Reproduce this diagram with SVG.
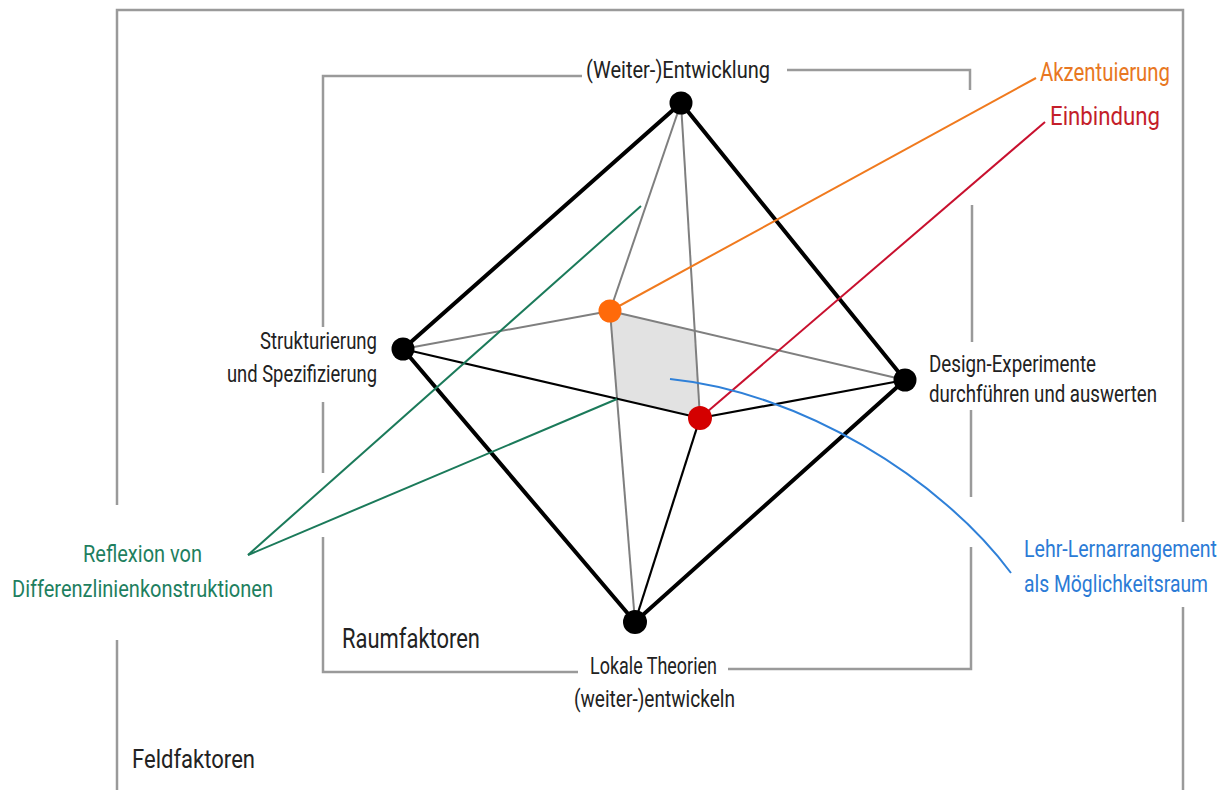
<svg xmlns="http://www.w3.org/2000/svg" width="1227" height="790" viewBox="0 0 1227 790">
<style>
text{font-family:Roboto,"Liberation Sans",sans-serif;fill:#222;font-size:23px}
.frame{fill:none;stroke:#9a9a9a;stroke-width:2.5}
.thick{stroke:#000;stroke-width:4;fill:none;stroke-linecap:round}
.thin{stroke:#000;stroke-width:2.2;fill:none}
.gray{stroke:#7f7f7f;stroke-width:2;fill:none}
.or{fill:#e87722}.rd{fill:#c41e2a}.gr{fill:#1e7f5f}.bl{fill:#2b7bd6}
</style>
<rect width="1227" height="790" fill="#fff"/>
<g id="frames">
<polyline class="frame" points="117,505 117,10 1183,10 1183,522"/>
<line class="frame" x1="117" y1="640" x2="117" y2="790"/>
<line class="frame" x1="1183" y1="607" x2="1183" y2="790"/>
<polyline class="frame" points="582,76 323,76 323,327"/>
<line class="frame" x1="323" y1="402" x2="323" y2="473"/>
<polyline class="frame" points="323,537 323,672 578,672"/>
<polyline class="frame" points="728,669 971,669 971,547"/>
<line class="frame" x1="971" y1="497" x2="971" y2="410"/>
<line class="frame" x1="972" y1="342" x2="972" y2="205"/>
<polyline class="frame" points="970,90 970,70 787,70"/>
<text x="132" y="768" style="font-size:25px" textLength="123" lengthAdjust="spacingAndGlyphs">Feldfaktoren</text>
<text x="342" y="648" style="font-size:27px" textLength="138" lengthAdjust="spacingAndGlyphs">Raumfaktoren</text>
</g>
<polygon id="flaeche" points="610,311 694.7,330.8 700,418 617,398.7" fill="#e2e2e2"/>
<g id="connectors">
<line class="gray" x1="681" y1="103" x2="610" y2="311"/>
<line class="gray" x1="681" y1="103" x2="700" y2="418"/>
<line class="gray" x1="610" y1="311" x2="403" y2="349"/>
<line class="gray" x1="610" y1="311" x2="905" y2="380"/>
<line class="gray" x1="610" y1="311" x2="635" y2="622"/>
<line class="thin" x1="403" y1="349" x2="700" y2="418"/>
<line class="thin" x1="700" y1="418" x2="905" y2="380"/>
<line class="thin" x1="700" y1="418" x2="635" y2="622"/>
<polyline class="thick" points="403,349 681,103 905,380 635,622 403,349"/>
<line stroke="#1b7a5a" stroke-width="2" x1="248" y1="555" x2="641" y2="206"/>
<line stroke="#1b7a5a" stroke-width="2" x1="248" y1="555" x2="617" y2="399"/>
<line stroke="#f07a1e" stroke-width="2" x1="610" y1="311" x2="1036" y2="78"/>
<line stroke="#c8102e" stroke-width="2" x1="700" y1="418" x2="1045" y2="122"/>
<path d="M670,379 C800,392 941,478.5 1011,573" fill="none" stroke="#2f80d8" stroke-width="2"/>
</g>
<g id="n-top"><circle cx="681" cy="103" r="11.5" fill="#000"/><text x="586" y="78" textLength="184" lengthAdjust="spacingAndGlyphs">(Weiter-)Entwicklung</text></g>
<g id="n-left"><circle cx="403" cy="349" r="11.5" fill="#000"/><text x="260" y="349" textLength="117" lengthAdjust="spacingAndGlyphs">Strukturierung</text><text x="227" y="382" textLength="150" lengthAdjust="spacingAndGlyphs">und Spezifizierung</text></g>
<g id="n-right"><circle cx="905" cy="380" r="11.5" fill="#000"/><text x="929" y="372" textLength="167" lengthAdjust="spacingAndGlyphs">Design-Experimente</text><text x="929" y="402" textLength="228" lengthAdjust="spacingAndGlyphs">durchführen und auswerten</text></g>
<g id="n-bottom"><circle cx="635" cy="622" r="12" fill="#000"/><text x="590" y="674" textLength="127" lengthAdjust="spacingAndGlyphs">Lokale Theorien</text><text x="574" y="707" textLength="161" lengthAdjust="spacingAndGlyphs">(weiter-)entwickeln</text></g>
<g id="n-orange"><circle cx="610" cy="311" r="11.5" fill="#ff6a0a"/></g>
<g id="n-red"><circle cx="700" cy="418" r="12" fill="#d40000"/></g>
<g id="l-akz"><text class="or" x="1040" y="81" style="font-size:25px" textLength="130" lengthAdjust="spacingAndGlyphs">Akzentuierung</text></g>
<g id="l-ein"><text class="rd" x="1050" y="125" style="font-size:25px" textLength="110" lengthAdjust="spacingAndGlyphs">Einbindung</text></g>
<g id="l-refl"><text class="gr" x="83" y="562" textLength="119" lengthAdjust="spacingAndGlyphs">Reflexion von</text><text class="gr" x="12" y="597" textLength="261" lengthAdjust="spacingAndGlyphs">Differenzlinienkonstruktionen</text></g>
<g id="l-lehr"><text class="bl" x="1024" y="557" textLength="193" lengthAdjust="spacingAndGlyphs">Lehr-Lernarrangement</text><text class="bl" x="1024" y="592" textLength="184" lengthAdjust="spacingAndGlyphs">als Möglichkeitsraum</text></g>
</svg>
